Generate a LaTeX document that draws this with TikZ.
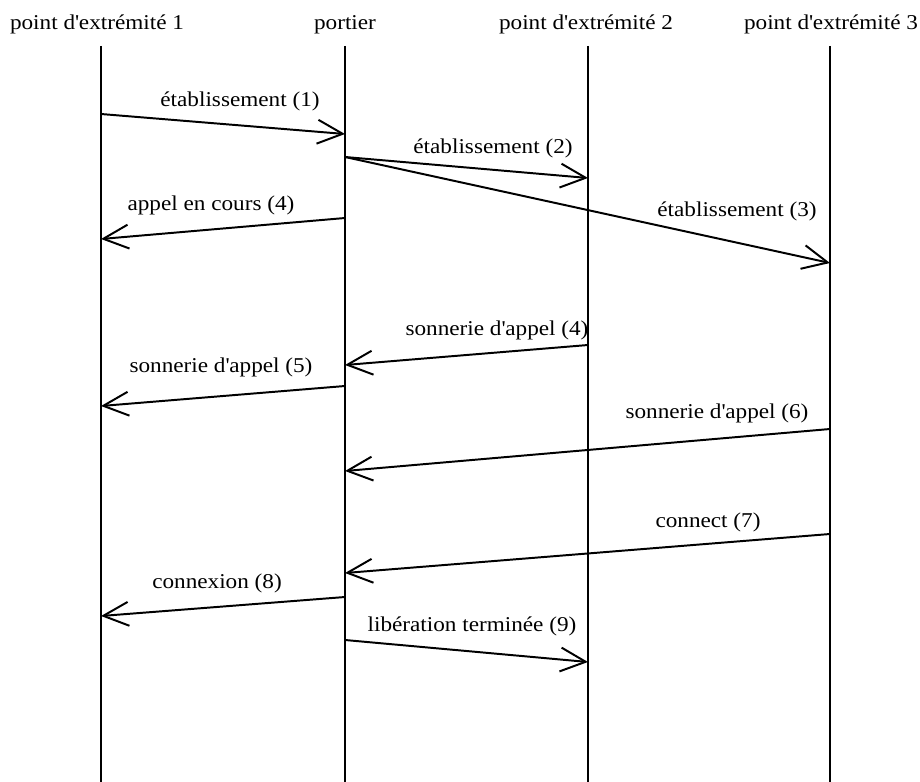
\documentclass[tikz,border=0pt]{standalone}
\usepackage{fontspec}
\setmainfont{Liberation Serif}[FakeStretch=1.1]
\usetikzlibrary{arrows.meta}
\tikzset{
  % en-tete d'une entite
  hd/.style={font=\fontsize{15}{17}\selectfont, inner sep=0pt, anchor=base},
  life/.style={line width=1.5pt},
  % message entre deux entites
  msg/.style={line width=1.4pt,
              -{Straight Barb[length=18pt, width=17pt, line width=1.4pt]}},
  lbl/.style={font=\fontsize{15}{17}\selectfont, inner sep=0pt, anchor=base}
}
\newcommand{\apos}{\textquotesingle}

\begin{document}
\begin{tikzpicture}[x=0.025cm, y=-0.025cm]
  \useasboundingbox (0,0) rectangle (920,782);

  % entites
  \node[hd] (ep1) at (97,30)  {point d\apos extrémité 1};
  \node[hd] (gk)  at (345,30) {portier};
  \node[hd] (ep2) at (586,30) {point d\apos extrémité 2};
  \node[hd] (ep3) at (831,30) {point d\apos extrémité 3};

  % lignes de vie
  \foreach \n/\x in {ep1/101, gk/345, ep2/588, ep3/830} {
    \coordinate (\n-top) at (\x,46);
    \coordinate (\n-bot) at (\x,782);
    \draw[life] (\n-top) -- (\n-bot);
  }

  % etablissement
  \coordinate (m1a) at (101,114);  \coordinate (m1b) at (345,134);
  \draw[msg] (m1a) -- (m1b);
  \node[lbl] (l1) at (240,106) {établissement (1)};

  \coordinate (m2a) at (345,157);  \coordinate (m2b) at (588,178);
  \draw[msg] (m2a) -- (m2b);
  \node[lbl] (l2) at (493,153) {établissement (2)};

  \coordinate (m3b) at (830,263);
  \draw[msg] (m2a) -- (m3b);
  \node[lbl] (l3) at (737,216) {établissement (3)};

  \coordinate (m4a) at (345,218);  \coordinate (m4b) at (101,239);
  \draw[msg] (m4a) -- (m4b);
  \node[lbl] (l4) at (211,210) {appel en cours (4)};

  % sonnerie
  \coordinate (m5a) at (588,345);  \coordinate (m5b) at (345,365);
  \draw[msg] (m5a) -- (m5b);
  \node[lbl] (l5) at (497,335) {sonnerie d\apos appel (4)};

  \coordinate (m6a) at (345,386);  \coordinate (m6b) at (101,406);
  \draw[msg] (m6a) -- (m6b);
  \node[lbl] (l6) at (221,372) {sonnerie d\apos appel (5)};

  \coordinate (m7a) at (830,429);  \coordinate (m7b) at (345,471);
  \draw[msg] (m7a) -- (m7b);
  \node[lbl] (l7) at (717,418) {sonnerie d\apos appel (6)};

  % connexion
  \coordinate (m8a) at (830,534);  \coordinate (m8b) at (345,573);
  \draw[msg] (m8a) -- (m8b);
  \node[lbl] (l8) at (708,527) {connect (7)};

  \coordinate (m9a) at (345,597);  \coordinate (m9b) at (101,616);
  \draw[msg] (m9a) -- (m9b);
  \node[lbl] (l9) at (217,588) {connexion (8)};

  % liberation
  \coordinate (m10a) at (345,640); \coordinate (m10b) at (588,662);
  \draw[msg] (m10a) -- (m10b);
  \node[lbl] (l10) at (472,631) {libération terminée (9)};
\end{tikzpicture}
\end{document}
